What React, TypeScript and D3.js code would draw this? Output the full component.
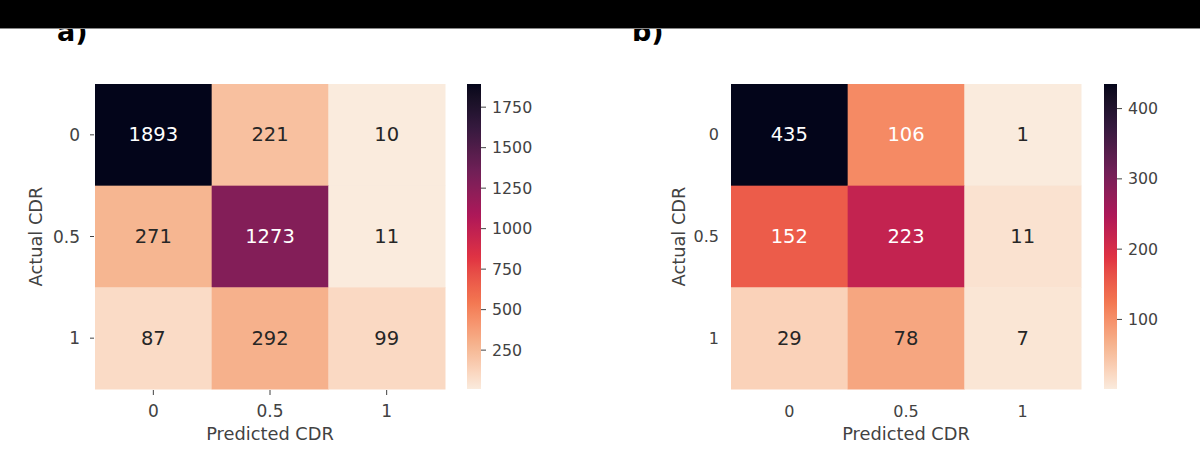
import React from "react";
import * as d3 from "d3";

const categories = ["0", "0.5", "1"];
const matrixA = [
  [1893, 221, 10],
  [271, 1273, 11],
  [87, 292, 99],
];
const matrixB = [
  [435, 106, 1],
  [152, 223, 11],
  [29, 78, 7],
];
const colorbarTicksA = [250, 500, 750, 1000, 1250, 1500, 1750];
const colorbarTicksB = [100, 200, 300, 400];
const panelLabels = ["a)", "b)"];
const xTitle = "Predicted CDR";
const yTitle = "Actual CDR";

// seaborn "rocket" colormap control points (0 = dark, 1 = light)
const rocketStops = ["#03051a", "#35193e", "#701f57", "#ad1759", "#e13342", "#f37651", "#f6b48f", "#faebdd"];
const rocket = d3
  .scaleLinear<string>()
  .domain(rocketStops.map((_, i) => i / (rocketStops.length - 1)))
  .range(rocketStops)
  .interpolate(d3.interpolateLab);

function luminance(c: string) {
  const rgb = d3.rgb(c);
  const f = (v: number) => {
    const s = v / 255;
    return s <= 0.03928 ? s / 12.92 : Math.pow((s + 0.055) / 1.055, 2.4);
  };
  return 0.2126 * f(rgb.r) + 0.7152 * f(rgb.g) + 0.0722 * f(rgb.b);
}

const FONT = "DejaVu Sans, sans-serif";
const TICK_COLOR = "#424242";

type PanelProps = {
  id: string;
  matrix: number[][];
  cbTicks: number[];
  x0: number;
  x1: number;
  y0: number;
  y1: number;
  cbX: number;
  cbW: number;
  showTicks: boolean;
  tickFont: number;
  yTickRight: number;
  yTitleX: number;
};

function Panel(p: PanelProps) {
  const flat = p.matrix.flat();
  const vmin = d3.min(flat)!;
  const vmax = d3.max(flat)!;
  const norm = d3.scaleLinear().domain([vmin, vmax]).range([0, 1]);
  const color = (v: number) => rocket(1 - norm(v));
  const xs = d3.scaleBand().domain(categories).range([p.x0, p.x1]);
  const ys = d3.scaleBand().domain(categories).range([p.y0, p.y1]);
  const cbScale = d3.scaleLinear().domain([vmin, vmax]).range([p.y1, p.y0]);
  const gradStops = d3.range(0, 1.0001, 0.02);
  const gid = `grad-${p.id}`;
  return (
    <g>
      <defs>
        <linearGradient id={gid} x1="0" y1="1" x2="0" y2="0">
          {gradStops.map((t) => (
            <stop key={t} offset={t} stopColor={rocket(1 - t)} />
          ))}
        </linearGradient>
      </defs>
      {p.matrix.map((row, ri) =>
        row.map((v, ci) => {
          const c = color(v);
          const txt = luminance(c) > 0.408 ? "#262626" : "#ffffff";
          const cx = xs(categories[ci])!;
          const cy = ys(categories[ri])!;
          return (
            <g key={`${ri}-${ci}`}>
              <rect x={cx} y={cy} width={xs.bandwidth() + 0.5} height={ys.bandwidth() + 0.5} fill={c} />
              <text
                x={cx + xs.bandwidth() / 2}
                y={cy + ys.bandwidth() / 2}
                textAnchor="middle"
                dominantBaseline="central"
                fontFamily={FONT}
                fontSize={19.5}
                fill={txt}
              >
                {v}
              </text>
            </g>
          );
        })
      )}
      {categories.map((c) => {
        const cx = xs(c)! + xs.bandwidth() / 2;
        return (
          <g key={`x-${c}`}>
            {p.showTicks && <line x1={cx} x2={cx} y1={p.y1 + 1} y2={p.y1 + 6} stroke={TICK_COLOR} strokeWidth={1} />}
            <text x={cx} y={p.y1 + 28} textAnchor="middle" fontFamily={FONT} fontSize={p.tickFont} fill={TICK_COLOR}>
              {c}
            </text>
          </g>
        );
      })}
      {categories.map((c) => {
        const cy = ys(c)! + ys.bandwidth() / 2;
        return (
          <g key={`y-${c}`}>
            {p.showTicks && <line x1={p.x0 - 5} x2={p.x0 - 1} y1={cy} y2={cy} stroke={TICK_COLOR} strokeWidth={1} />}
            <text
              x={p.yTickRight}
              y={cy}
              textAnchor="end"
              dominantBaseline="central"
              fontFamily={FONT}
              fontSize={p.tickFont}
              fill={TICK_COLOR}
            >
              {c}
            </text>
          </g>
        );
      })}
      <text
        x={(p.x0 + p.x1) / 2}
        y={p.y1 + 51}
        textAnchor="middle"
        fontFamily={FONT}
        fontSize={17.8}
        fill={TICK_COLOR}
      >
        {xTitle}
      </text>
      <text
        transform={`translate(${p.yTitleX},${(p.y0 + p.y1) / 2}) rotate(-90)`}
        textAnchor="middle"
        dominantBaseline="central"
        fontFamily={FONT}
        fontSize={17.8}
        fill={TICK_COLOR}
      >
        {yTitle}
      </text>
      <rect x={p.cbX} y={p.y0} width={p.cbW} height={p.y1 - p.y0} fill={`url(#${gid})`} />
      {p.cbTicks.map((t) => (
        <g key={`cb-${t}`}>
          <line x1={p.cbX + p.cbW} x2={p.cbX + p.cbW + 5} y1={cbScale(t)} y2={cbScale(t)} stroke={TICK_COLOR} strokeWidth={1} />
          <text
            x={p.cbX + p.cbW + 11}
            y={cbScale(t)}
            dominantBaseline="central"
            fontFamily={FONT}
            fontSize={15.8}
            fill={TICK_COLOR}
          >
            {t}
          </text>
        </g>
      ))}
    </g>
  );
}

export default function App() {
  return (
    <svg
      width={1200}
      height={456}
      style={{ position: "absolute", left: 0, top: 0, background: "#ffffff" }}
    >
      <rect x={0} y={0} width={1200} height={456} fill="#ffffff" />
      <text x={57} y={41} fontFamily={FONT} fontWeight="bold" fontSize={27} fill="#000">
        {panelLabels[0]}
      </text>
      <text x={632} y={41} fontFamily={FONT} fontWeight="bold" fontSize={27} fill="#000">
        {panelLabels[1]}
      </text>
      <rect x={0} y={0} width={1200} height={28} fill="#000" />
      <line x1={0} x2={1200} y1={28.5} y2={28.5} stroke="#888" strokeWidth={1} />
      <Panel
        id="a"
        matrix={matrixA}
        cbTicks={colorbarTicksA}
        x0={95}
        x1={445}
        y0={84}
        y1={389}
        cbX={467}
        cbW={14}
        showTicks={true}
        tickFont={17}
        yTickRight={80}
        yTitleX={35}
      />
      <Panel
        id="b"
        matrix={matrixB}
        cbTicks={colorbarTicksB}
        x0={731}
        x1={1081}
        y0={84}
        y1={389}
        cbX={1104}
        cbW={13}
        showTicks={false}
        tickFont={16}
        yTickRight={719}
        yTitleX={678}
      />
    </svg>
  );
}
